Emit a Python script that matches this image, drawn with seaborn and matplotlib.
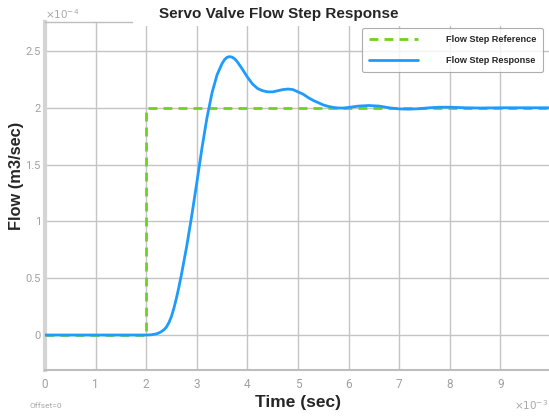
import matplotlib
matplotlib.use("Agg")
import matplotlib.pyplot as plt
from matplotlib.patches import Rectangle
from matplotlib import font_manager
import pandas as pd
import seaborn as sns

# Time in milliseconds, flow in units of 1e-4 m3/sec
ref_time = [0.0, 2.0, 2.0, 10.0]
ref_flow = [0.0, 0.0, 2.0, 2.0]

resp_time = [0.0, 1.0, 2.0, 2.1, 2.2, 2.25, 2.3, 2.35, 2.4, 2.45, 2.5, 2.55,
             2.6, 2.65, 2.7, 2.8, 2.9, 3.0, 3.1, 3.2, 3.3, 3.4, 3.5, 3.55,
             3.6, 3.65, 3.7, 3.75, 3.8, 3.9, 4.0, 4.1, 4.2, 4.3, 4.4, 4.5,
             4.6, 4.7, 4.8, 4.9, 5.0, 5.1, 5.2, 5.3, 5.4, 5.5, 5.6, 5.7, 5.8,
             5.9, 6.0, 6.2, 6.4, 6.6, 6.8, 7.0, 7.2, 7.4, 7.6, 7.8, 8.0, 8.3,
             8.6, 9.0, 9.5, 10.0]
resp_flow = [0.0, 0.0, 0.0, 0.002, 0.01, 0.018, 0.03, 0.046, 0.07, 0.11,
             0.165, 0.24, 0.33, 0.43, 0.54, 0.78, 1.05, 1.34, 1.64, 1.91,
             2.13, 2.29, 2.39, 2.425, 2.445, 2.45, 2.445, 2.43, 2.405, 2.34,
             2.27, 2.21, 2.17, 2.15, 2.14, 2.14, 2.15, 2.16, 2.165, 2.16,
             2.14, 2.12, 2.09, 2.065, 2.045, 2.025, 2.012, 2.003, 1.998,
             1.998, 2.003, 2.015, 2.02, 2.015, 2.0, 1.99, 1.988, 1.992, 2.0,
             2.005, 2.005, 2.0, 1.998, 2.0, 2.0, 2.0]

x_ticks = [0, 1, 2, 3, 4, 5, 6, 7, 8, 9]
y_ticks = [0, 0.5, 1, 1.5, 2, 2.5]
y_tick_labels = ["0", "0.5", "1", "1.5", "2", "2.5"]

ref_df = pd.DataFrame({"t": ref_time, "q": ref_flow})
resp_df = pd.DataFrame({"t": resp_time, "q": resp_flow})

sns.set_style("white")
plt.rcParams["font.family"] = ["Liberation Sans", "DejaVu Sans"]

installed = {f.name for f in font_manager.fontManager.ttflist}
tick_family = "Liberation Sans Narrow" if "Liberation Sans Narrow" in installed else "Roboto"

W, H = 549, 416
fig = plt.figure(figsize=(W / 100, H / 100), dpi=100)
ax = fig.add_axes([45 / W, (H - 370) / H, 1 - 45 / W, (370 - 22) / H])

sns.lineplot(data=ref_df, x="t", y="q", ax=ax, color="#6cd41e", lw=2,
             linestyle=(0, (3.2, 2.2)), label="Flow Step Reference",
             estimator=None, sort=False, zorder=3)
sns.lineplot(data=resp_df, x="t", y="q", ax=ax, color="#1e9bff", lw=2,
             label="Flow Step Response", estimator=None, sort=False, zorder=4)

ax.set_xlim(0, (W - 45) / 50.6)
ax.set_ylim(-0.308, 2.755)
ax.set_xticks(x_ticks)
ax.set_yticks(y_ticks)
ax.set_yticklabels(y_tick_labels)

ax.grid(True, color="#c4c4c4", lw=1)
ax.tick_params(axis="x", length=0, colors="#a0a0a0", labelsize=8.5, pad=6)
ax.tick_params(axis="y", length=0, colors="#a0a0a0", labelsize=8, pad=3)
for lab in ax.get_xticklabels() + ax.get_yticklabels():
    lab.set_fontfamily(tick_family)

ax.spines["left"].set_color("#d4d4d4")
ax.spines["left"].set_linewidth(3)
ax.spines["bottom"].set_color("#bdbdbd")
ax.spines["bottom"].set_linewidth(1.5)
ax.spines["top"].set_color("#bdbdbd")
ax.spines["top"].set_linewidth(1)
ax.spines["right"].set_visible(False)

ax_w = W * ax.get_position().width
ax_h = H * ax.get_position().height
ax.set_xlabel("Time (sec)", fontsize=12.5, fontweight="bold", va="center")
ax.xaxis.set_label_coords((298 - 45) / ax_w, -(403 - 370) / ax_h)
ax.set_ylabel("Flow (m3/sec)", fontsize=11.8, fontweight="bold", va="center")
ax.yaxis.set_label_coords(-(45 - 17) / ax_w, (370 - 176) / ax_h)

leg = ax.legend(loc="upper right", bbox_to_anchor=(1 - 6 / ax_w, 1 - 6 / ax_h),
                prop={"weight": "bold", "size": 6.6}, handlelength=5.4,
                handletextpad=3.0, borderpad=0.75, labelspacing=1.3,
                frameon=True, fancybox=True, edgecolor="#9a9a9a",
                borderaxespad=0)
leg.get_frame().set_linewidth(0.8)

# blank strip over the top edge of the plot, behind the title
fig.patches.append(Rectangle((133 / W, (H - 26) / H), 1, 26 / H,
                             transform=fig.transFigure, facecolor="white",
                             edgecolor="none", zorder=1))
fig.text(279 / W, (H - 14) / H, "Servo Valve Flow Step Response",
         ha="center", va="center", fontsize=11, fontweight="bold", zorder=2)

fig.text(45 / W, (H - 14) / H, r"$\times10^{-4}$", color="#a8a8a8",
         fontsize=7.5, ha="left", va="center", fontfamily="Roboto")
fig.text(548 / W, (H - 405) / H, r"$\times10^{-3}$", color="#a8a8a8",
         fontsize=7.5, ha="right", va="center", fontfamily="Roboto")
fig.text(30 / W, (H - 406) / H, "Offset=0", color="#a8a8a8",
         fontsize=6, ha="left", va="center", fontfamily=tick_family)

fig.savefig("out.png", dpi=100)
